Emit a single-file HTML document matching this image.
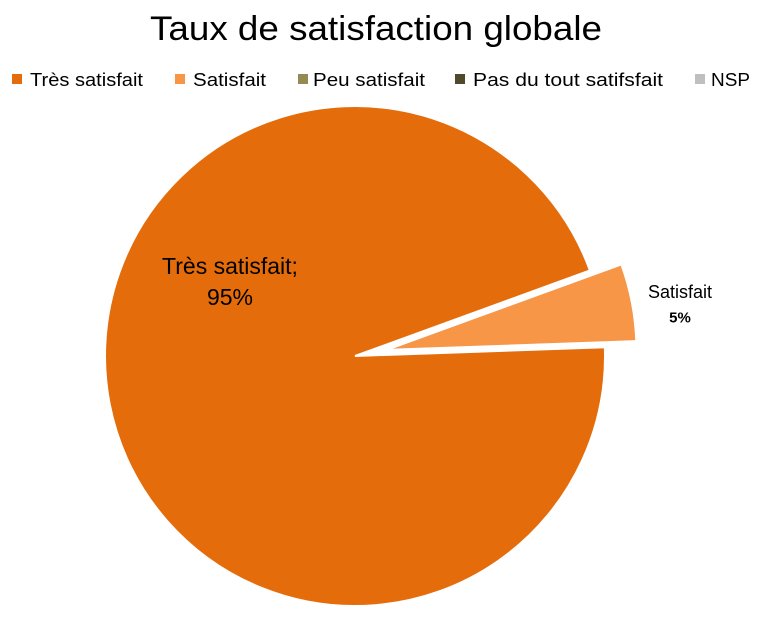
<!DOCTYPE html>
<html><head><meta charset="utf-8"><style>
html,body{margin:0;padding:0;background:#fff;}
svg{display:block;font-family:"Liberation Sans",sans-serif;}
</style></head><body>
<svg id="chart" width="762" height="621" viewBox="0 0 762 621">
<text x="150" y="40" font-size="34" fill="#000" textLength="452" lengthAdjust="spacingAndGlyphs">Taux de satisfaction globale</text>
<g id="legend"></g>
<g id="slices"></g>
<g id="labels"></g>
</svg>
<script>
const categories = ["Très satisfait","Satisfait","Peu satisfait","Pas du tout satifsfait","NSP"];
const values = [95,5,0,0,0];
const colors = ["#E46C0A","#F79646","#948A54","#4F4A2D","#BFBFBF"];
const markerX = [12,175,298,455,695];
const textX = [30,193,313,473,711];
const textW = [113,73,112,190,39];
const NS="http://www.w3.org/2000/svg";
const cx=355, cy=356, r=250, startDeg=88, explode=[0,32,0,0,0];
const leg=document.getElementById('legend');
categories.forEach((c,i)=>{
  const rc=document.createElementNS(NS,'rect');
  rc.setAttribute('x',markerX[i]);rc.setAttribute('y',74);rc.setAttribute('width',10);rc.setAttribute('height',10);rc.setAttribute('fill',colors[i]);
  
  
  leg.appendChild(rc);
  const t=document.createElementNS(NS,'text');
  t.setAttribute('x',textX[i]);t.setAttribute('y',86);t.setAttribute('font-size',18);t.textContent=c;
  t.setAttribute('textLength',textW[i]);
  t.setAttribute('lengthAdjust','spacingAndGlyphs');
  
  
  leg.appendChild(t);
});
const total=values.reduce((a,b)=>a+b,0);
let ang=startDeg;
const sl=document.getElementById('slices'), lb=document.getElementById('labels');
function pt(a,rad,ox,oy){const t=(a-90)*Math.PI/180;return [ox+rad*Math.cos(t),oy+rad*Math.sin(t)];}
values.forEach((v,i)=>{
  if(v<=0)return;
  const sweep=v/total*360, mid=ang+sweep/2;
  const [ox,oy]=pt(mid,explode[i],cx,cy);
  const p1=pt(ang,r,ox,oy), p2=pt(ang+sweep,r,ox,oy);
  const path=document.createElementNS(NS,'path');
  path.setAttribute('d',`M${ox},${oy} L${p1[0]},${p1[1]} A${r},${r} 0 ${sweep>180?1:0} 1 ${p2[0]},${p2[1]} Z`);
  path.setAttribute('fill',colors[i]);path.setAttribute('stroke','#fff');path.setAttribute('stroke-width',2);
  
  
  sl.appendChild(path);
  ang+=sweep;
});
function lab(x,y,lines,fs,name,bold2){
  const t=document.createElementNS(NS,'text');
  t.setAttribute('text-anchor','middle');t.setAttribute('font-size',fs);
  
  
  lines.forEach((l,k)=>{const s=document.createElementNS(NS,'tspan');s.setAttribute('x',x);s.setAttribute('y',y+k*fs*1.35);s.textContent=l;
    if(bold2&&k==1){s.setAttribute('font-weight','bold');s.setAttribute('font-size',fs-3);}
    t.appendChild(s);});
  lb.appendChild(t);
}
lab(230,274,[categories[0]+";",values[0]+"%"],23,'label-tres-satisfait');
lab(680,298,[categories[1],values[1]+"%"],18,'label-satisfait',true);
</script>
</body></html>
